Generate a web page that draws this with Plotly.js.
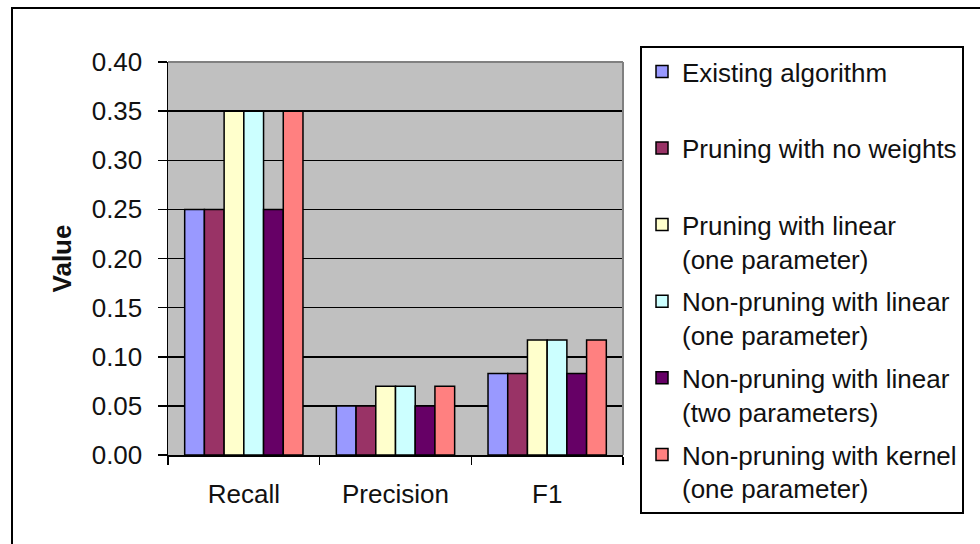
<!DOCTYPE html>
<html>
<head>
<meta charset="utf-8">
<script src="https://cdn.plot.ly/plotly-3.0.1.min.js"></script>
<style>
  html, body { margin: 0; padding: 0; background: #fff; overflow: hidden; }
  #wrap { position: relative; width: 980px; height: 544px; overflow: hidden; }
  #chart { position: absolute; left: 0; top: 0; width: 980px; height: 544px; }
  #frame { position: absolute; left: 11px; top: 7px; width: 1200px; height: 800px;
           border: 2px solid #000; pointer-events: none; box-sizing: border-box; }
</style>
</head>
<body>
<div id="wrap">
  <div id="chart"></div>
  <div id="frame"></div>
</div>
<script>
// Metrics on the x axis
const categories = ['Recall', 'Precision', 'F1'];

// One series per method
const existingAlgorithm      = [0.25, 0.05, 0.083];
const pruningNoWeights       = [0.25, 0.05, 0.083];
const pruningLinearOne       = [0.35, 0.07, 0.117];
const nonPruningLinearOne    = [0.35, 0.07, 0.117];
const nonPruningLinearTwo    = [0.25, 0.05, 0.083];
const nonPruningKernelOne    = [0.35, 0.07, 0.117];

const seriesNames = [
  'Existing algorithm',
  'Pruning with no weights',
  'Pruning with linear<br>(one parameter)',
  'Non-pruning with linear<br>(one parameter)',
  'Non-pruning with linear<br>(two parameters)',
  'Non-pruning with kernel<br>(one parameter)'
];
const seriesValues = [
  existingAlgorithm, pruningNoWeights, pruningLinearOne,
  nonPruningLinearOne, nonPruningLinearTwo, nonPruningKernelOne
];
const seriesColors = ['#9999FF', '#993366', '#FFFFCC', '#CCFFFF', '#660066', '#FF8080'];

const FONT = 'Liberation Sans, Arial, sans-serif';

const traces = seriesValues.map((vals, i) => {
  // single-line names get a blank second line so every legend entry has the same height
  const name = seriesNames[i].includes('<br>') ? seriesNames[i] : seriesNames[i] + '<br>\u00a0';
  return {
    type: 'bar',
    x: categories,
    y: vals,
    name: name,
    legendgroup: 'g' + i,
    marker: { color: seriesColors[i], line: { color: '#000', width: 1.5 } },
    hoverinfo: 'x+y+name'
  };
});

const layout = {
  width: 980,
  height: 544,
  paper_bgcolor: '#ffffff',
  plot_bgcolor: '#C0C0C0',
  margin: { l: 168, r: 357, t: 62, b: 89, pad: 0 },
  barmode: 'group',
  bargap: 0.22,
  bargroupgap: 0,
  font: { family: FONT, size: 26, color: '#111' },
  showlegend: true,
  legend: {
    xref: 'container', yref: 'container',
    x: 640 / 980, xanchor: 'left',
    y: 1 - 46 / 544, yanchor: 'top',
    maxheight: 520,
    bgcolor: '#ffffff',
    bordercolor: '#000',
    borderwidth: 2,
    font: { family: FONT, size: 26, color: '#111' },
    traceorder: 'grouped',
    tracegroupgap: 6,
    valign: 'top',
    itemwidth: 30
  },
  xaxis: {
    type: 'category',
    showline: true, linecolor: '#000', linewidth: 1.5,
    ticks: 'outside', tickson: 'boundaries', ticklen: 8, tickwidth: 1.5, tickcolor: '#000',
    ticklabelstandoff: 15,
    showgrid: false, zeroline: false,
    tickfont: { family: FONT, size: 26, color: '#111' }
  },
  yaxis: {
    range: [0, 0.4], dtick: 0.05, tickformat: '.2f',
    showline: true, linecolor: '#000', linewidth: 1.5,
    ticks: 'outside', ticklen: 9, tickwidth: 1.5, tickcolor: '#000',
    ticklabelstandoff: 10,
    showgrid: true, gridcolor: '#000', gridwidth: 1.5,
    zeroline: false,
    tickfont: { family: FONT, size: 26, color: '#111' },
    title: { text: '<b>Value</b>', font: { family: FONT, size: 26, color: '#111' }, standoff: 12 }
  },
  shapes: [
    // gray frame on the top and right of the plotting area
    { type: 'line', xref: 'paper', yref: 'paper', x0: 0, x1: 1, y0: 1, y1: 1,
      line: { color: '#808080', width: 2 } },
    { type: 'line', xref: 'paper', yref: 'paper', x0: 1, x1: 1, y0: 0, y1: 1,
      line: { color: '#808080', width: 2 } }
  ]
};

Plotly.newPlot('chart', traces, layout, { staticPlot: true, displayModeBar: false });
</script>
</body>
</html>
